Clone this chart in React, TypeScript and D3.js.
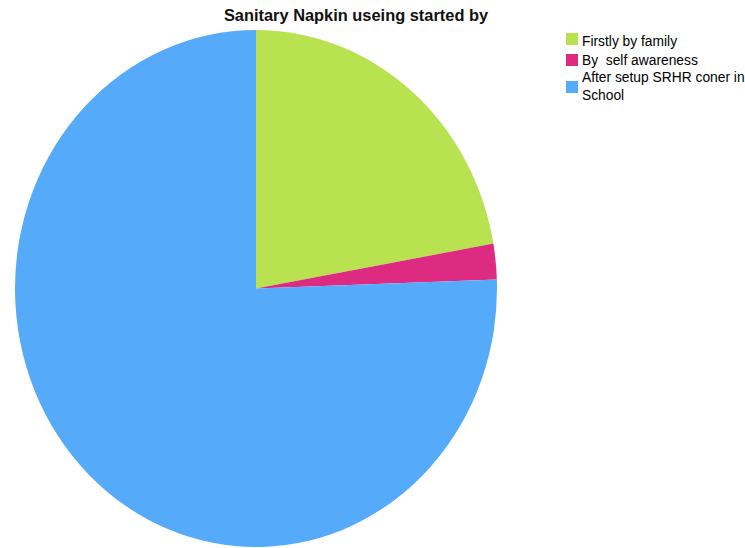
import React from "react";
import * as d3 from "d3";

const categories = ["Firstly by family", "By  self awareness", "After setup SRHR coner in School"];
const values = [10, 1, 34];
const colors = ["#b8e250", "#dd2b82", "#56aafa"];
const legendLines = [["Firstly by family"], ["By  self awareness"], ["After setup SRHR coner in", "School"]];
const title = "Sanitary Napkin useing started by";

export default function App() {
  const W = 745, H = 548;
  const cx = 256, cy = 288.5, rx = 241, ry = 258.5;
  const pie = d3.pie<number>().sort(null).value((d) => d);
  const arcs = pie(values);
  const arc = d3.arc<d3.PieArcDatum<number>>().innerRadius(0).outerRadius(rx);
  const swatchY = [33, 54, 81];
  const textY = [45.5, 65, 82];
  return (
    <svg width={W} height={H} style={{ position: "absolute", left: 0, top: 0, background: "#fff" }}
      fontFamily="'Liberation Sans', Arial, sans-serif">
      <text x={356} y={21} textAnchor="middle" fontSize={16.4} fontWeight="bold" fill="#111">{title}</text>
      <g transform={`translate(${cx},${cy}) scale(1,${ry / rx})`}>
        {arcs.map((a, i) => (
          <path key={i} d={arc(a) || ""} fill={colors[i]} />
        ))}
      </g>
      {categories.map((c, i) => (
        <g key={c}>
          <rect x={566} y={swatchY[i]} width={12} height={12} fill={colors[i]} />
          <text x={582} y={textY[i]} fontSize={13.8} fill="#000" style={{ whiteSpace: "pre" }}>
            {legendLines[i].map((l, j) => (
              <tspan key={j} x={582} dy={j === 0 ? 0 : 17.5}>{l}</tspan>
            ))}
          </text>
        </g>
      ))}
    </svg>
  );
}
